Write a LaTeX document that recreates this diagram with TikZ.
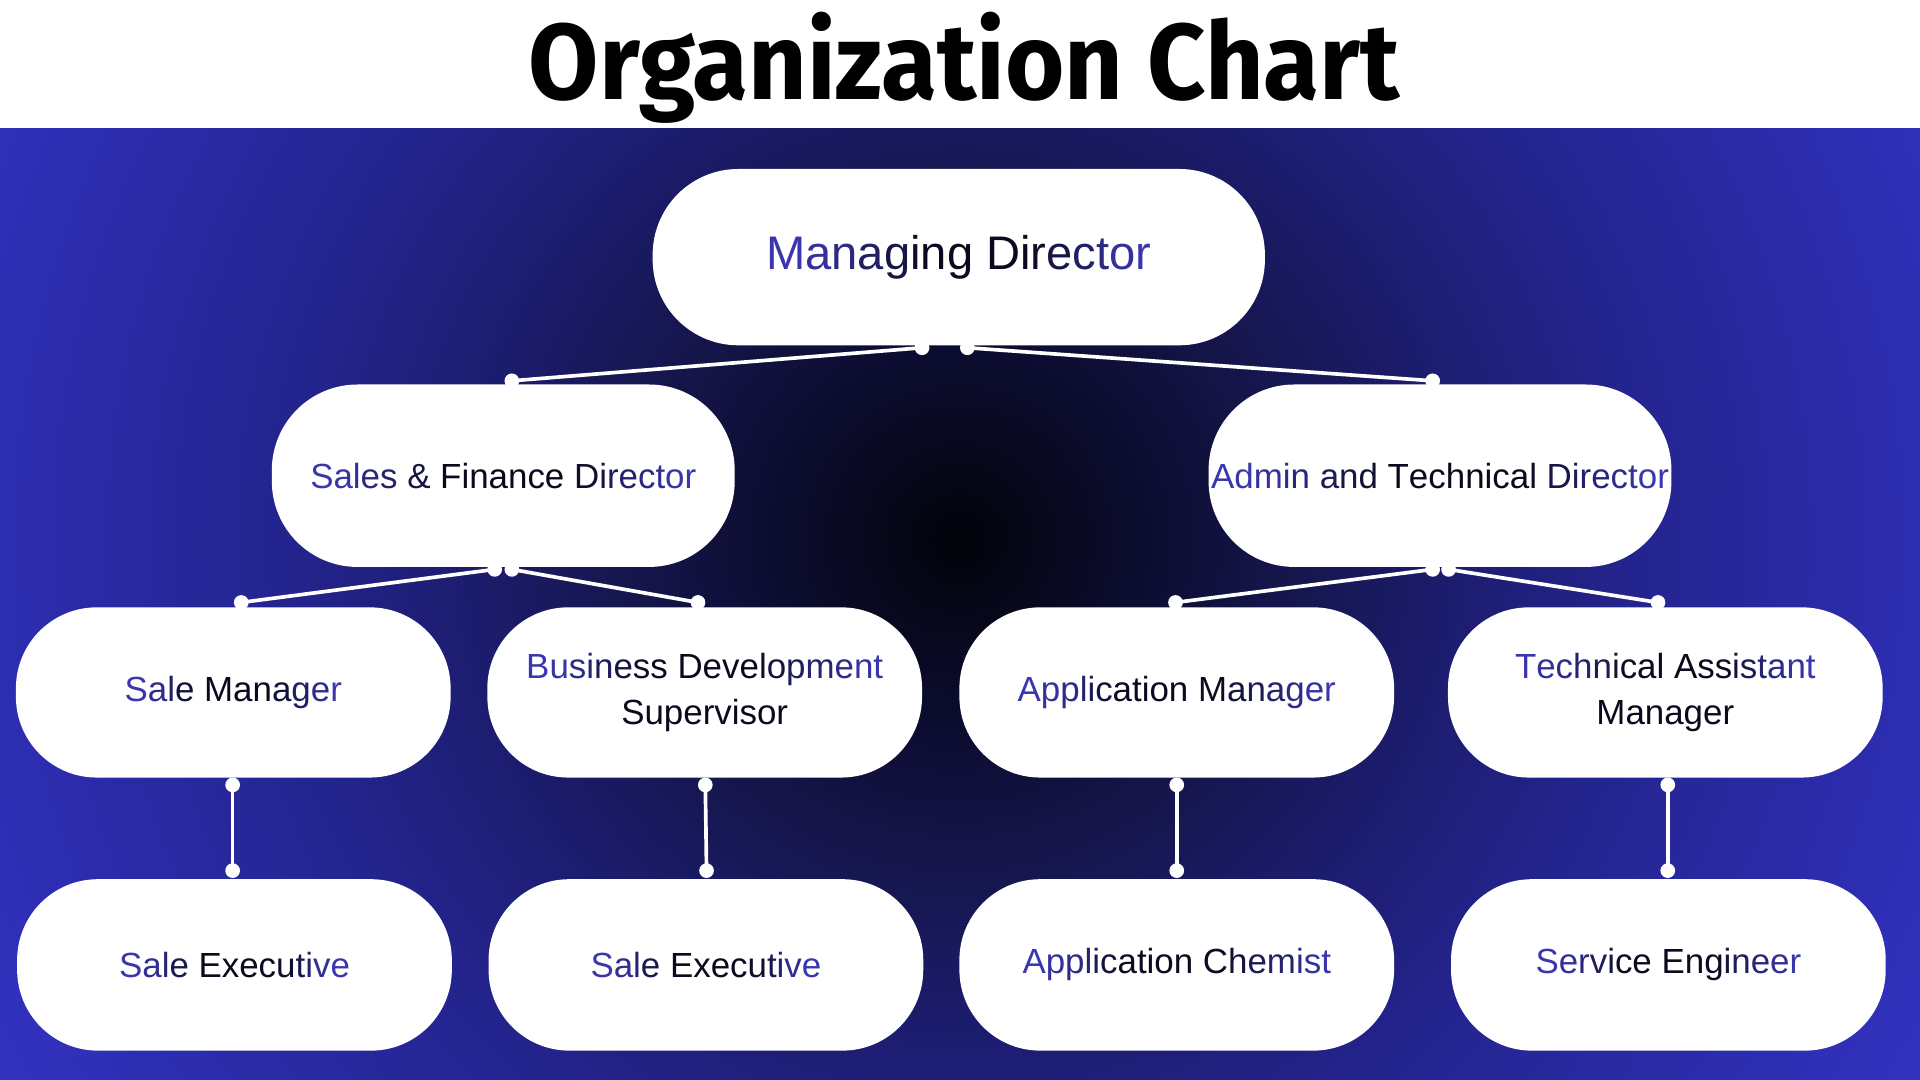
\documentclass[tikz,border=0pt]{standalone}
\usepackage{fontspec}
\usepackage{graphicx}
\setmainfont{Liberation Sans}
\newfontfamily\titlefont{Fira Sans}
\definecolor{tb}{HTML}{3A37AE}
\definecolor{tk}{HTML}{0A0A1E}
\definecolor{bga}{HTML}{03030A}
\definecolor{bgb}{HTML}{0C0C30}
\definecolor{bgc}{HTML}{15154A}
\definecolor{bgd}{HTML}{1C1C6E}
\definecolor{bge}{HTML}{24248F}
\definecolor{bgf}{HTML}{2E2EB5}
\definecolor{bgg}{HTML}{3838CC}
\pgfdeclareradialshading{bgshade}{\pgfpointorigin}{color(0bp)=(bga); color(3.75bp)=(bgb); color(6.5bp)=(bgc); color(10bp)=(bgd); color(13.85bp)=(bge); color(20.25bp)=(bgf); color(25bp)=(bgg); color(50bp)=(bgg)}
\ExplSyntaxOn
\int_new:N \l_grad_n_int
\int_new:N \l_grad_i_int
\NewDocumentCommand \gradtext { m }
 {
  \int_set:Nn \l_grad_n_int { \str_count:n {#1} }
  \int_zero:N \l_grad_i_int
  \str_map_inline:nn {#1}
   {
    \int_incr:N \l_grad_i_int
    \str_if_eq:nnTF {##1} {~}
     { \space }
     { \textcolor{tb!\fp_eval:n { round( 100 * min(1, max(0, (2*abs((\int_use:N \l_grad_i_int - 0.5)/\int_use:N \l_grad_n_int - 0.5) - 0.3)/0.6)), 0) }!tk}{##1} }
   }
 }
\ExplSyntaxOff
\begin{document}
\begin{tikzpicture}[x=1pt,y=-1pt,
  box/.style={fill=white, rounded corners=66pt, inner sep=0pt, align=center,
    minimum width=355pt, minimum height=139pt, text=tk,
    font=\fontsize{28.5}{37.5}\selectfont},
  bigbox/.style={box, minimum width=378pt, minimum height=149pt, rounded corners=70pt},
  topbox/.style={box, minimum width=500pt, minimum height=144pt, rounded corners=70pt,
    font=\fontsize{38.5}{44}\selectfont},
  dot/.style={circle, fill=white, inner sep=0pt, minimum size=12pt},
  conn/.style={white, line width=3pt}]
\useasboundingbox (0,0) rectangle (1568,882);
\fill[white] (0,0) rectangle (1568,105);
\begin{scope}
\clip (0,105) rectangle (1568,882);
\shade[shading=bgshade] (783,440) circle[radius=1000];
\end{scope}
\node[anchor=base] (title) at (787.5,81) {\resizebox{711pt}{\height}{\titlefont\bfseries\fontsize{88}{90}\selectfont Organization Chart}};
% boxes
\node[topbox] (md) at (783,210) {\gradtext{Managing Director}};
\node[bigbox] (sfd) at (411,388.5) {\gradtext{Sales & Finance Director}};
\node[bigbox] (atd) at (1176,388.5) {\gradtext{Admin and Technical Director}};
\node[box] (sm) at (190.5,565.5) {\gradtext{Sale Manager}};
\node[box] (bds) at (575.5,565.5) {\gradtext{Business Development}\\ \textcolor{tk}{Supervisor}};
\node[box] (am) at (961,565.5) {\gradtext{Application Manager}};
\node[box] (tam) at (1360,565.5) {\gradtext{Technical Assistant}\\ \textcolor{tk}{Manager}};
\node[box, minimum height=140pt] (se1) at (191.5,788) {\gradtext{Sale Executive}};
\node[box, minimum height=140pt] (se2) at (576.5,788) {\gradtext{Sale Executive}};
\node[box, minimum height=140pt] (ac) at (961,788) {\gradtext{Application Chemist}};
\node[box, minimum height=140pt] (seng) at (1362.5,788) {\gradtext{Service Engineer}};
% connector end points
\node[dot] (mdl) at (753,284) {};
\node[dot] (mdr) at (790,284) {};
\node[dot] (sfdt) at (418,311) {};
\node[dot] (atdt) at (1170,311) {};
\node[dot] (sfdl) at (404,465) {};
\node[dot] (sfdr) at (418,465) {};
\node[dot] (smt) at (197,492) {};
\node[dot] (bdst) at (570,492) {};
\node[dot] (atdl) at (1170,465) {};
\node[dot] (atdr) at (1183,465) {};
\node[dot] (amt) at (960,492) {};
\node[dot] (tamt) at (1354,492) {};
\node[dot] (smb) at (190,641) {};
\node[dot] (se1t) at (190,711) {};
\node[dot] (bdsb) at (576,641) {};
\node[dot] (se2t) at (577,711) {};
\node[dot] (amb) at (961,641) {};
\node[dot] (act) at (961,711) {};
\node[dot] (tamb) at (1362,641) {};
\node[dot] (sengt) at (1362,711) {};
% connectors
\draw[conn] (mdl.center) -- (sfdt.center);
\draw[conn] (mdr.center) -- (atdt.center);
\draw[conn] (sfdl.center) -- (smt.center);
\draw[conn] (sfdr.center) -- (bdst.center);
\draw[conn] (atdl.center) -- (amt.center);
\draw[conn] (atdr.center) -- (tamt.center);
\draw[conn] (smb.center) -- (se1t.center);
\draw[conn] (bdsb.center) -- (se2t.center);
\draw[conn] (amb.center) -- (act.center);
\draw[conn] (tamb.center) -- (sengt.center);
\end{tikzpicture}
\end{document}
